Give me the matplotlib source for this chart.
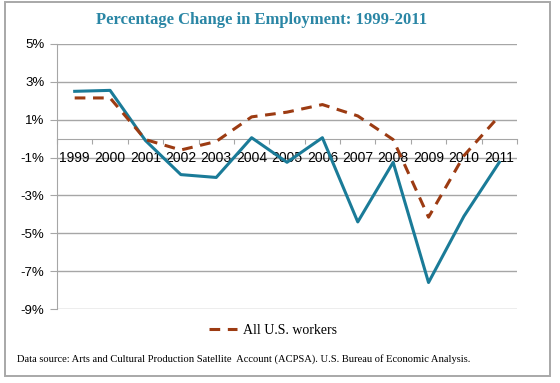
#!/usr/bin/env python3
"""Percentage change in employment 1999-2011, arts/culture vs all U.S. workers."""
import matplotlib
matplotlib.use("Agg")
import matplotlib.pyplot as plt
from matplotlib.patches import Rectangle

years = ["1999", "2000", "2001", "2002", "2003", "2004", "2005",
         "2006", "2007", "2008", "2009", "2010", "2011"]
arts_pct = [2.5, 2.55, -0.1, -1.9, -2.05, 0.05, -1.25,
            0.05, -4.4, -1.25, -7.6, -4.1, -1.25]
all_workers_pct = [2.15, 2.15, -0.05, -0.6, -0.15, 1.15, 1.4,
                   1.8, 1.2, -0.05, -4.15, -0.9, 1.2]
y_ticks = [-9, -7, -5, -3, -1, 1, 3, 5]
y_labels = ["-9%", "-7%", "-5%", "-3%", "-1%", "1%", "3%", "5%"]

BLUE = "#1A7B98"
RUST = "#9C3B12"
GRID = "#A6A6A6"
W, H = 560, 383

fig = plt.figure(figsize=(W / 100, H / 100), dpi=100)
fig.patch.set_facecolor("white")
fig.patches.append(Rectangle((5 / W, 7 / H), 545 / W, 374 / H,
                             transform=fig.transFigure, fill=False,
                             edgecolor="#A8A8A8", linewidth=1.4))

ax = fig.add_axes([57 / W, (H - 309) / H, 460 / W, 265 / H])
x = list(range(len(years)))

for v in y_ticks:
    ax.axhline(v, color=GRID, lw=1.0, zorder=1)

ax.plot(x, arts_pct, color=BLUE, lw=2.2, zorder=3)
ax.plot(x, all_workers_pct, color=RUST, lw=2.2, dashes=(3.5, 2.5),
        zorder=4, label="All U.S. workers")

ax.set_xlim(-0.5, len(years) - 0.5)
ax.set_ylim(-9, 5)

for s in ("top", "right"):
    ax.spines[s].set_visible(False)
ax.spines["left"].set_color(GRID)
ax.spines["bottom"].set_color(GRID)
ax.spines["bottom"].set_position(("data", 0))

ax.set_yticks(y_ticks)
ax.set_yticklabels(y_labels, fontsize=9.5, family="Liberation Sans")
ax.tick_params(axis="y", length=5, color=GRID, pad=4)

ax.set_xticks([i + 0.5 for i in range(-1, len(years))])
ax.set_xticklabels([])
ax.tick_params(axis="x", which="major", length=3.5, color=GRID, direction="out")
ax.set_xticks(x, minor=True)
ax.set_xticklabels(years, minor=True, fontsize=10, family="Liberation Sans")
ax.tick_params(axis="x", which="minor", length=0, pad=9)

fig.text(262 / W, 1 - 20 / H, "Percentage Change in Employment: 1999-2011",
         ha="center", va="center", fontsize=12, fontweight="bold",
         color="#2A86A5", family="Liberation Serif")

fig.legend(loc="center", bbox_to_anchor=(273 / W, 1 - 330 / H), frameon=False,
           prop={"family": "Liberation Serif", "size": 10},
           handlelength=2.0, handletextpad=0.4)

fig.text(17 / W, 1 - 359 / H,
         "Data source: Arts and Cultural Production Satellite  Account (ACPSA). "
         "U.S. Bureau of Economic Analysis.",
         ha="left", va="center", fontsize=7.6, family="Liberation Serif")

fig.savefig("out.png", dpi=100)
